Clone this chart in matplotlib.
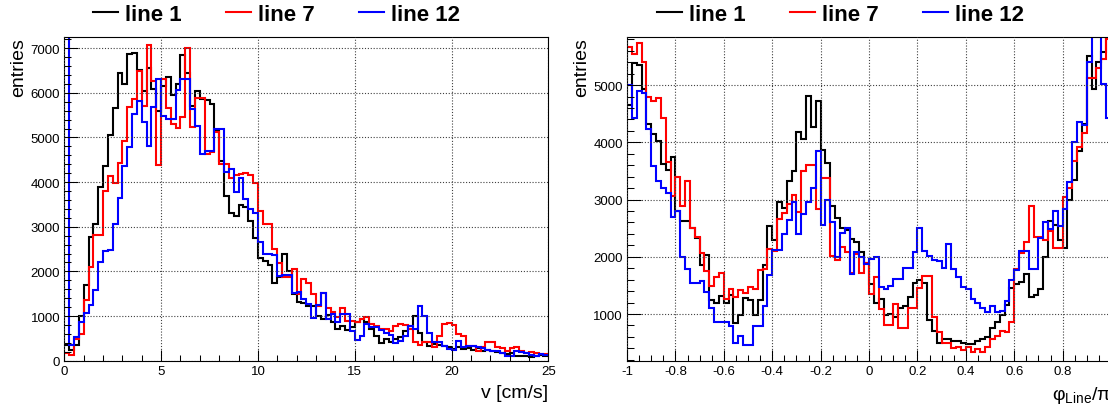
import numpy as np
import matplotlib
matplotlib.use("Agg")
import matplotlib.pyplot as plt
from matplotlib.lines import Line2D
from matplotlib.ticker import MultipleLocator, FuncFormatter

plt.rcParams["font.family"] = ["Liberation Sans", "DejaVu Sans"]
plt.rcParams["axes.unicode_minus"] = False
plt.rcParams["mathtext.fontset"] = "custom"
plt.rcParams["mathtext.rm"] = "Liberation Sans"
plt.rcParams["mathtext.it"] = "Liberation Sans:italic"

# ---------------- data ----------------
series_labels = ["line 1", "line 7", "line 12"]
series_colors = ["#000000", "#ff0000", "#0000ff"]

# velocity histograms: 100 bins from 0 to 25 cm/s
v_range = (0.0, 25.0)
v_line1 = [360, 250, 360, 1000, 1690, 2760, 3070, 3890, 4370, 5050,
           5650, 6440, 6200, 6880, 6900, 6500, 6050, 6550, 6080, 5600,
           6150, 6350, 5950, 6200, 6850, 6450, 5700, 6050, 5870, 5850,
           5750, 5170, 4480, 3700, 3300, 3240, 3480, 3440, 3120, 2750,
           2300, 2240, 2150, 1750, 1880, 2380, 2010, 1490, 1320, 1300,
           1230, 1230, 990, 930, 1020, 870, 710, 780, 680, 750,
           870, 930, 860, 720, 560, 400, 480, 410, 480, 540,
           670, 780, 990, 630, 410, 340, 370, 350, 335, 300,
           260, 300, 260, 280, 250, 280, 225, 250, 225, 200,
           170, 150, 170, 110, 110, 100, 75, 110, 125, 110]
v_line7 = [172, 127, 480, 600, 1360, 2090, 2810, 2820, 3810, 4130,
           3990, 4430, 4930, 5680, 5860, 6480, 5700, 7070, 6270, 4380,
           6300, 5650, 5300, 5220, 5450, 7010, 5230, 5880, 5880, 4620,
           4670, 5120, 4410, 4400, 4100, 4150, 4180, 4200, 4150, 3990,
           3350, 3070, 3070, 2500, 2180, 1870, 1880, 2060, 1500, 1830,
           1750, 1490, 1230, 1510, 1190, 1080, 970, 1190, 900, 880,
           870, 930, 970, 820, 780, 720, 710, 670, 780, 820,
           800, 700, 410, 350, 410, 410, 300, 545, 820, 840,
           800, 600, 545, 335, 335, 225, 300, 425, 425, 300,
           280, 225, 280, 300, 225, 170, 185, 170, 150, 150]
v_line12 = [9500, 360, 520, 870, 1060, 1250, 1590, 2200, 2450, 2480,
            3070, 3640, 4350, 4780, 5520, 5820, 5350, 4810, 5690, 6300,
            5480, 5410, 5410, 6060, 6320, 6300, 5630, 5260, 4630, 4700,
            4700, 5200, 5200, 4220, 4300, 3780, 4100, 3620, 3400, 3300,
            2650, 2390, 2390, 2370, 1900, 1920, 1920, 1510, 1530, 1380,
            1270, 950, 1250, 1510, 930, 1040, 870, 1040, 1040, 670,
            460, 560, 820, 750, 750, 690, 630, 575, 395, 450,
            560, 780, 710, 1230, 1010, 630, 410, 410, 335, 260,
            250, 450, 300, 335, 335, 300, 280, 250, 225, 225,
            170, 110, 100, 225, 200, 170, 125, 110, 150, 125]

# angle histograms: 100 bins from -1 to 1 (phi/pi)
phi_range = (-1.0, 1.0)
phi_line1 = [4650, 5380, 5350, 4930, 4320, 4140, 4020, 3620, 3520, 3750,
             2800, 2630, 2630, 2500, 2320, 1850, 2030, 1250, 1190, 1320,
             1200, 1330, 850, 980, 1280, 1250, 980, 1250, 1850, 2540,
             2300, 2950, 2860, 3330, 3500, 4180, 4060, 4810, 4260, 4730,
             3870, 3640, 2890, 2670, 2500, 2470, 2310, 2250, 2080, 1900,
             1520, 1200, 1260, 980, 1000, 940, 1110, 1140, 1290, 1550,
             1600, 1550, 900, 700, 500, 560, 560, 530, 530, 500,
             470, 470, 530, 560, 600, 750, 860, 980, 1150, 1460,
             1520, 1560, 1700, 1300, 1330, 1430, 1990, 2630, 2560, 2300,
             2150, 3000, 3350, 3850, 4320, 5510, 4940, 5400, 5580, 6000]
phi_line7 = [5670, 5540, 5730, 5400, 4800, 4730, 4780, 4430, 3660, 3070,
             3390, 2890, 3330, 2500, 2340, 2060, 1750, 1490, 1650, 1710,
             1260, 1445, 1290, 1420, 1375, 1480, 1430, 1770, 1780, 2130,
             2100, 2660, 2770, 2920, 3080, 2790, 3500, 3600, 3600, 2830,
             3370, 3370, 2020, 1950, 2170, 2080, 1720, 2050, 1720, 1900,
             1350, 1650, 1080, 800, 800, 1170, 760, 760, 1110, 1110,
             1460, 1670, 1670, 940, 680, 500, 500, 400, 420, 380,
             430, 330, 390, 330, 420, 560, 620, 700, 680, 860,
             1780, 2060, 2250, 2880, 2340, 2340, 2300, 2450, 2160, 2160,
             3040, 3200, 3680, 3910, 4170, 5130, 5130, 5300, 5460, 5800]
phi_line12 = [5000, 4430, 4890, 4870, 4230, 3590, 3330, 3210, 3110, 2690,
              2800, 1990, 1780, 1550, 1550, 1580, 1380, 1110, 860, 860,
              860, 790, 500, 620, 455, 455, 790, 790, 1140, 1680,
              2120, 2120, 2400, 2650, 2950, 2400, 2750, 2950, 3200, 3850,
              2550, 3000, 2600, 2000, 2420, 2500, 1700, 2090, 1990, 1870,
              1960, 1990, 1480, 1430, 1490, 1610, 1610, 1810, 1810, 2080,
              2510, 2100, 2020, 1950, 1930, 1800, 2220, 1780, 1640, 1480,
              1430, 1260, 1200, 1110, 1030, 1140, 1040, 1060, 1230, 1600,
              1770, 2100, 2100, 1780, 1780, 2330, 2610, 2480, 2800, 2540,
              2830, 3300, 4000, 4350, 4300, 5400, 7000, 6500, 5020, 4430]

# ---------------- figure ----------------
W, H = 1108, 406
fig = plt.figure(figsize=(W / 100, H / 100), dpi=100)

def px_axes(x0, y_top, w, h):
    return fig.add_axes([x0 / W, 1 - (y_top + h) / H, w / W, h / H])

ax_v = px_axes(64.3, 38.0, 484.0, 323.7)
ax_p = px_axes(627.0, 38.0, 484.0, 323.7)

def style_axes(ax, xmajor, xminor):
    ax.set_facecolor("white")
    for s in ax.spines.values():
        s.set_linewidth(0.8)
        s.set_color("black")
    ax.xaxis.set_major_locator(MultipleLocator(xmajor))
    ax.xaxis.set_minor_locator(MultipleLocator(xminor))
    ax.yaxis.set_major_locator(MultipleLocator(1000))
    ax.yaxis.set_minor_locator(MultipleLocator(200))
    ax.tick_params(axis="both", which="both", direction="in",
                   top=False, right=False, width=0.75, labelsize=9.5,
                   colors="black")
    ax.tick_params(axis="y", which="major", length=10.4, pad=3)
    ax.tick_params(axis="y", which="minor", length=5.0)
    ax.tick_params(axis="x", which="major", length=8.0, pad=3)
    ax.tick_params(axis="x", which="minor", length=4.5)
    ax.grid(True, which="major", linestyle=(0, (1, 1.6)),
            linewidth=0.8, color="0.25")
    ax.set_axisbelow(False)
    ax.xaxis.set_major_formatter(
        FuncFormatter(lambda x, p: f"{round(x, 6) + 0:g}"))

def draw_hists(ax, rng, data):
    edges = np.linspace(rng[0], rng[1], len(data[0]) + 1)
    for vals, col in zip(data, series_colors):
        ax.stairs(vals, edges, baseline=None, color=col, linewidth=1.5)

# velocity panel
style_axes(ax_v, 5, 1)
draw_hists(ax_v, v_range, [v_line1, v_line7, v_line12])
ax_v.set_xlim(*v_range)
ax_v.set_ylim(0, 7250)
ax_v.set_xlabel("v [cm/s]", fontsize=14, loc="right")
ax_v.xaxis.set_label_coords(1.0, -0.072)
ax_v.set_ylabel("entries", fontsize=14, loc="top")
ax_v.yaxis.set_label_coords(-0.076, 1.0)

# angle panel
style_axes(ax_p, 0.2, 0.05)
draw_hists(ax_p, phi_range, [phi_line1, phi_line7, phi_line12])
ax_p.set_xlim(*phi_range)
ax_p.set_ylim(185, 5840)
ax_p.set_xlabel(r"φ$_{\rm Line}$/π", fontsize=14, loc="right")
ax_p.xaxis.set_label_coords(1.0, -0.072)
ax_p.set_ylabel("entries", fontsize=14, loc="top")
ax_p.yaxis.set_label_coords(-0.076, 1.0)

# legends above each panel
handles = [Line2D([], [], color=c, linewidth=1.5) for c in series_colors]
for x_left in (93.0, 657.0):
    leg = fig.legend(handles, series_labels, ncol=3, frameon=False,
                     loc="center left",
                     bbox_to_anchor=(x_left / W, 1 - 15.5 / H),
                     prop={"family": "Liberation Sans", "weight": "bold",
                           "size": 16},
                     handlelength=1.13, handletextpad=0.32,
                     columnspacing=1.98, borderpad=0, borderaxespad=0)

fig.savefig("out.png", dpi=100)
